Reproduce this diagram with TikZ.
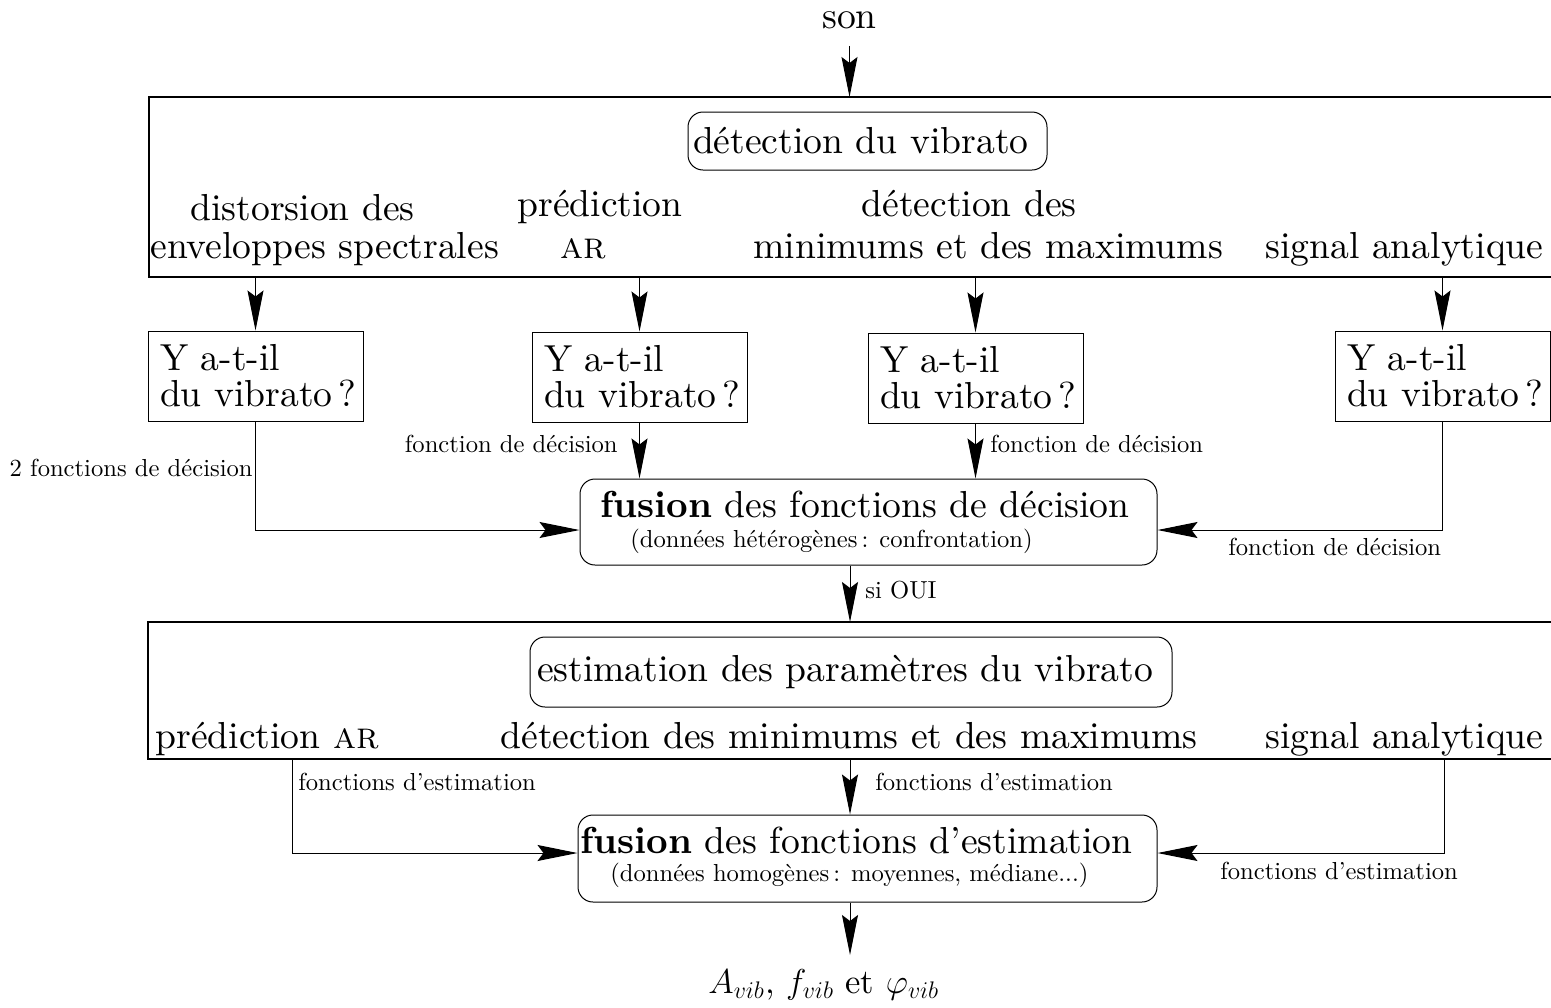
\documentclass[tikz,border=0pt]{standalone}
\usepackage{fontspec}
\setmainfont{lmroman10-regular.otf}[BoldFont=lmroman10-bold.otf,
  ItalicFont=lmroman10-italic.otf, SmallCapsFont=lmromancaps10-regular.otf]
\usetikzlibrary{arrows.meta,calc}
\newcommand\fbig{\fontsize{18.8}{18}\selectfont}
\newcommand\fsmall{\fontsize{12.3}{14}\selectfont}
\newcommand\fres{\fontsize{17.28}{18}\selectfont}
\tikzset{
  arr/.style={line width=0.5pt,-{Stealth[length=20pt,width=8pt,inset=3pt]}},
  frame/.style={line width=0.6pt},
  txt/.style={inner sep=0pt,font=\fbig},
  lab/.style={inner sep=0pt,font=\fsmall},
  qbox/.style={draw,line width=0.5pt,align=left,text width=95.5pt,inner xsep=6pt,
    inner ysep=0pt,minimum height=45pt,font=\fbig},
  rbox/.style={draw,line width=0.5pt,rounded corners=7.5pt,inner ysep=0pt},
}
\begin{document}
\begin{tikzpicture}[x=0.5pt,y=-0.5pt]
\useasboundingbox (0,0) rectangle (1551,1007);
% helper coordinates
\coordinate (axis) at (850,0);
\coordinate (fr1top) at (0,97);
\coordinate (fr1bot) at (0,277);
\coordinate (fr2top) at (0,622);
\coordinate (fr2bot) at (0,759);
\coordinate (h1) at (0,530);
\coordinate (h2) at (0,853);
\coordinate (cAR) at (292,0);
\coordinate (cSA) at (1444,0);
\coordinate (resend) at (850,955);

% input
\node[txt,anchor=base] (son) at (849.5,28) {son};

% frame 1
\draw[frame] (1570,97) -- (149,97) -- (149,277) -- (1570,277);
\node[rbox,text width=174.5pt,inner xsep=2.5pt,minimum height=29pt,align=left,font=\fbig]
  (detect) at (867.5,141) {détection du vibrato};
\node[txt,anchor=base west] (m1a) at (190,220) {distorsion des};
\node[txt,anchor=base west] (m1b) at (150,258) {enveloppes spectrales};
\node[txt,anchor=base west] (m2a) at (517,216) {prédiction};
\node[txt,anchor=base west] (m2b) at (560,258) {\textsc{ar}};
\node[txt,anchor=base west] (m3a) at (861,216) {détection des};
\node[txt,anchor=base west] (m3b) at (753,258) {minimums et des maximums};
\node[txt,anchor=base west] (m4) at (1265,258) {signal analytique};

% question boxes
\node[qbox] (Y1) at (255.5,376) {\mbox{Y a-t-il}\\\mbox{du vibrato\,?}};
\node[qbox] (Y2) at (639.5,377) {\mbox{Y a-t-il}\\\mbox{du vibrato\,?}};
\node[qbox] (Y3) at (975.5,378) {\mbox{Y a-t-il}\\\mbox{du vibrato\,?}};
\node[qbox] (Y4) at (1442.5,376) {\mbox{Y a-t-il}\\\mbox{du vibrato\,?}};

\foreach \n in {Y1,Y2,Y3,Y4}
  \draw[arr] (\n.north |- fr1bot) -- (\n.north);

% fusion 1
\node[rbox,minimum width=288.5pt,minimum height=43pt] (F1) at (868.5,522) {};
\node[txt,anchor=base west] (F1a) at (600,517) {\textbf{fusion} des fonctions de décision};
\node[lab,anchor=base west] (F1b) at (630,547) {(données hétérogènes\,: confrontation)};

\draw[arr] (Y1.south) |- (F1.west |- h1);
\draw[arr] (Y2.south) -- (Y2.south |- F1.north);
\draw[arr] (Y3.south) -- (Y3.south |- F1.north);
\draw[arr] (Y4.south) |- (F1.east |- h1);

\node[lab,anchor=base east] (l1) at (253,476) {2 fonctions de décision};
\node[lab,anchor=base east] (l2) at (618,452) {fonction de décision};
\node[lab,anchor=base west] (l3) at (990,452) {fonction de décision};
\node[lab,anchor=base west] (l4) at (1228,555) {fonction de décision};

\draw[arr] ([yshift=-8.5pt]son.south) -- (son.south |- fr1top);
\draw[arr] (axis |- F1.south) -- (axis |- fr2top);
\node[lab,anchor=base west] (oui) at (865,598) {si OUI};

% frame 2
\draw[frame] (1570,622) -- (148,622) -- (148,759) -- (1570,759);
\node[rbox,text width=314pt,inner xsep=3.5pt,minimum height=35pt,align=left,font=\fbig]
  (estim) at (851,672) {estimation des paramètres du vibrato};
\node[txt,anchor=base west] (e1) at (155,748) {prédiction \textsc{ar}};
\node[txt,anchor=base west] (e2) at (500,748) {détection des minimums et des maximums};
\node[txt,anchor=base west] (e3) at (1265,748) {signal analytique};

% fusion 2
\node[rbox,minimum width=289.5pt,minimum height=43.5pt] (F2) at (867.5,858.5) {};
\node[txt,anchor=base west] (F2a) at (580,853) {\textbf{fusion} des fonctions d’estimation};
\node[lab,anchor=base west] (F2b) at (610,881) {(données homogènes\,: moyennes, médiane...)};

\draw[arr] (cAR |- fr2bot) |- (F2.west |- h2);
\draw[arr] (axis |- fr2bot) -- (axis |- F2.north);
\draw[arr] (cSA |- fr2bot) |- (F2.east |- h2);

\node[lab,anchor=base west] (k1) at (298,790) {fonctions d’estimation};
\node[lab,anchor=base west] (k2) at (875,790) {fonctions d’estimation};
\node[lab,anchor=base west] (k3) at (1220,879) {fonctions d’estimation};

% output
\draw[arr] (axis |- F2.south) -- (resend);
\node[inner sep=0pt,font=\fres,anchor=base west] (res) at (708,993) {$A_{vib}$, $f_{vib}$ et $\varphi_{vib}$};
\end{tikzpicture}
\end{document}
